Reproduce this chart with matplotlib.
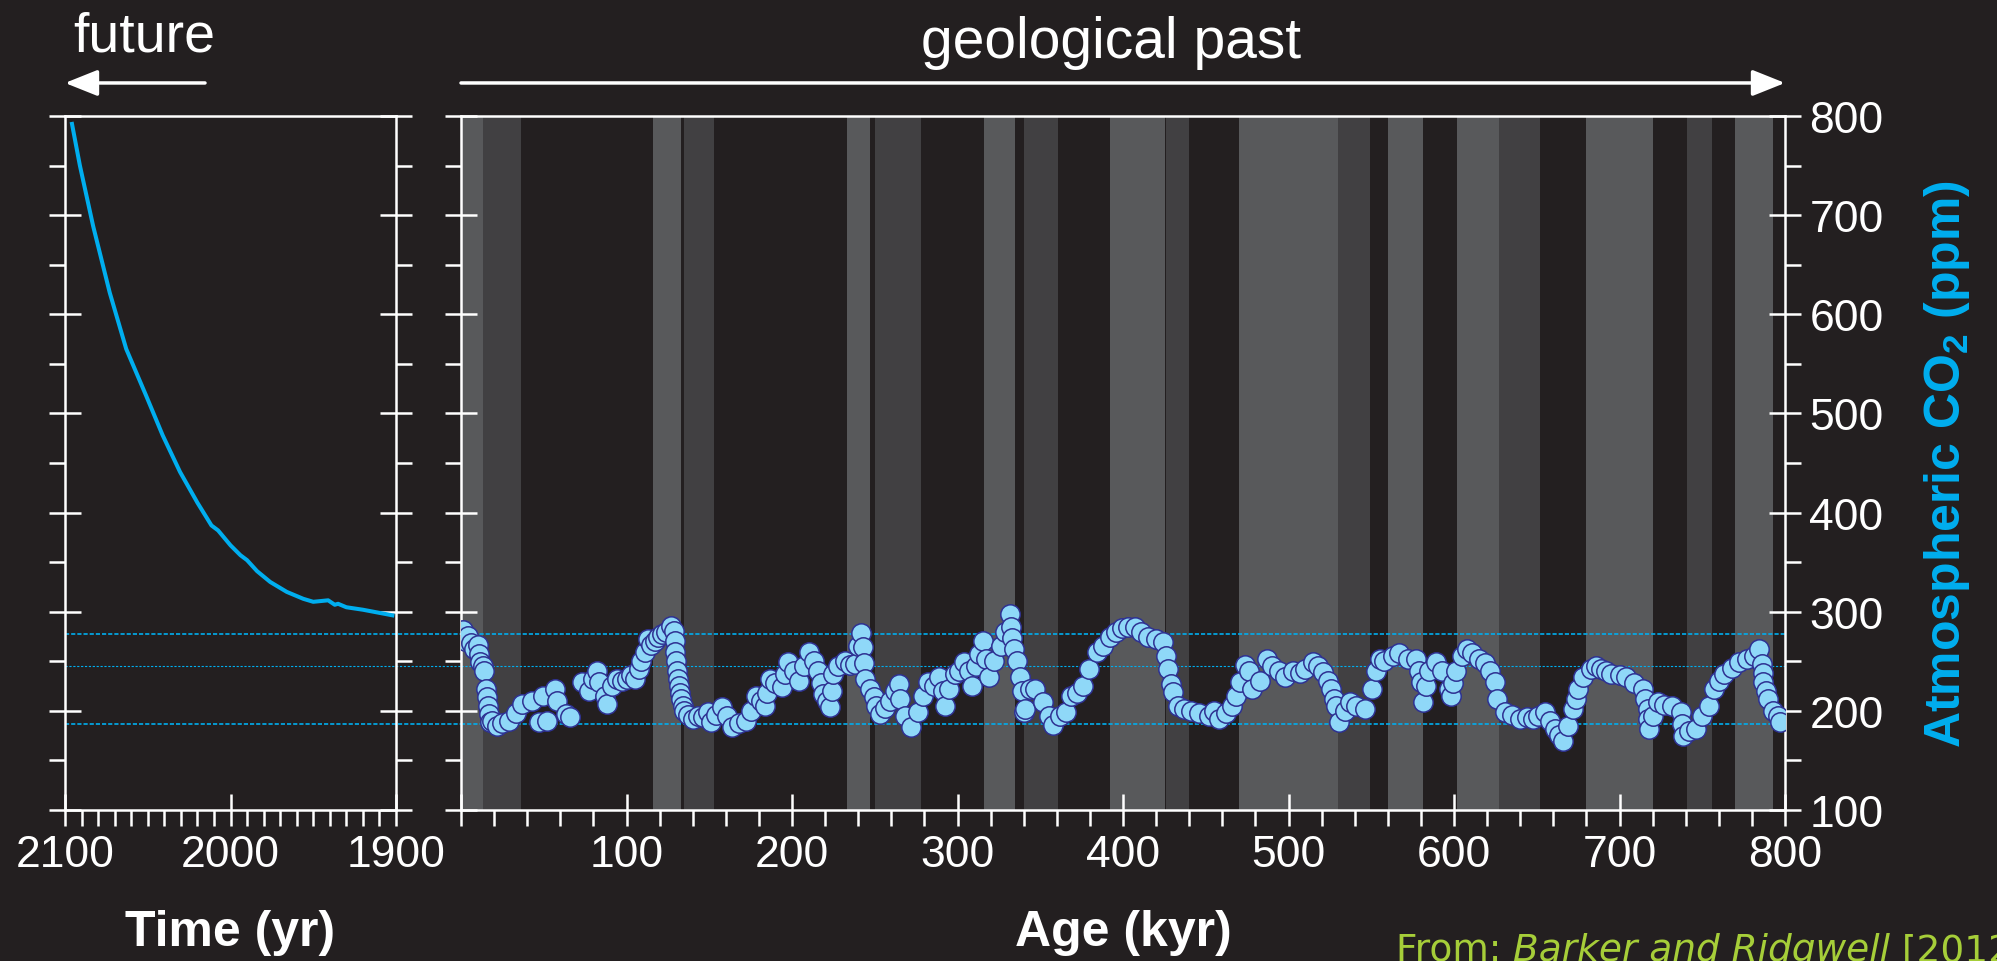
import matplotlib.pyplot as plt
from matplotlib.ticker import MultipleLocator, FuncFormatter

plt.rcParams['font.family'] = ['Liberation Sans', 'DejaVu Sans']
plt.rcParams['mathtext.fontset'] = 'custom'
plt.rcParams['mathtext.rm'] = 'Liberation Sans'
plt.rcParams['mathtext.bf'] = 'Liberation Sans:bold'

# future projection (left panel)
future_year = [2096, 2091, 2083, 2073, 2063, 2051, 2041, 2030.5, 2020, 2011.5, 2007.5, 2000,
               1994, 1990, 1984, 1976, 1966, 1956, 1950, 1941, 1937, 1935, 1930, 1920, 1901]
future_co2 = [794, 750, 689, 622, 565, 518, 478, 441, 410, 387, 382, 367,
              357, 352, 341, 330, 320, 313, 310, 311.5, 307, 308, 304.5, 302, 296]

# ice core record (right panel)
age_kyr = [0, 1, 2.4, 4, 6, 8, 10, 10.8, 11.5, 13, 14, 15, 15.6, 16.3, 16.8, 17.5, 19, 21.6, 25, 29,
           33, 37, 43, 47.4, 49.5, 52, 56.8, 58, 63.5, 66, 73, 77.5, 80, 82, 83.5, 87, 88, 91, 94, 97,
           100.5, 103, 105, 107.6, 109, 111, 113, 115, 117, 119, 121.5, 124, 127, 128.7, 129.2, 129.6,
           130, 130.5, 131, 131.7, 132.3, 133, 134, 135, 137, 139.9, 143, 146, 149, 151, 154, 158, 161,
           164, 168, 172, 175, 178, 181, 183.5, 185, 187, 190, 194, 196, 197.5, 201, 204.5, 207, 210,
           213, 216, 217.3, 218.6, 221, 223, 224, 225, 228, 232, 235, 238, 240, 241.7, 243, 243.5, 244,
           247, 249.6, 251, 253, 256, 259, 262, 264.6, 265.5, 268, 272, 276, 279, 282, 286, 289, 291,
           292.5, 295, 298.6, 301, 304, 307, 309, 311, 313, 315.5, 317, 319, 322, 326, 329, 331.6,
           332.5, 333, 334, 336, 337.5, 339, 340, 341, 344, 347, 351.6, 355, 358, 362, 365.6, 368.6,
           372, 376, 379.5, 384, 388, 392, 396, 399.5, 403, 407, 411, 415, 420, 424, 426, 427, 429,
           430, 433.5, 437, 441, 446, 452, 455, 458, 462, 465.7, 468, 470.5, 473.5, 476, 478, 482.6,
           487.3, 490, 494, 498, 503, 507, 510, 515, 518, 521, 524, 525.8, 527.5, 529, 530.6, 534, 537,
           541, 546, 550.6, 553, 555.4, 558, 563, 567, 572, 577, 579, 580, 581, 583, 585, 589, 593,
           597, 598, 599.5, 601, 605, 608, 611, 615, 619, 622, 624.6, 626, 631, 635, 640, 644, 647.5,
           651, 655, 658, 661, 663.5, 666, 669, 672, 673.5, 675, 678, 683, 686, 689, 692, 695, 700,
           704, 709, 714, 715.5, 717, 717.5, 718, 720, 723, 727, 732, 737, 737.8, 738.6, 742, 746,
           750, 754, 757, 760, 763, 768, 772, 777, 781.5, 784, 786, 786.5, 787, 788.5, 790, 793,
           795.5, 797]
co2_ppm = [280, 282, 270, 276, 268, 262, 266, 257, 249, 245, 240, 222, 214, 205, 197, 189, 190, 185, 188, 190,
           198, 207, 210, 189, 215, 190, 222, 210, 197, 194, 229, 220, 232, 240, 229, 215, 207, 225, 232, 230,
           232, 236, 232, 242, 250, 259, 272, 266, 270, 275, 278, 280, 286, 281, 270, 259,
           250, 240, 232, 225, 218, 212, 205, 200, 196, 192, 195, 194, 199, 189, 196, 204, 195,
           184, 188, 190, 200, 215, 210, 205, 218, 232, 228, 224, 237, 249, 240, 230, 245, 259,
           250, 240, 228, 217, 210, 204, 220, 237, 245, 250, 246, 247, 265, 279, 264, 248, 232,
           222, 214, 205, 197, 203, 210, 220, 227, 212, 195, 184, 199, 215, 229, 225, 234, 220,
           205, 222, 237, 240, 249, 240, 225, 245, 257, 270, 252, 234, 250, 265, 280, 298,
           285, 273, 262, 250, 234, 220, 199, 202, 222, 222, 209, 195, 186, 195, 199, 215,
           218, 225, 242, 259, 265, 274, 280, 284, 285, 285, 280, 274, 272, 269, 255, 242, 227,
           219, 205, 202, 200, 198, 195, 200, 192, 198, 205, 215, 229, 246, 240, 222, 230,
           252, 245, 240, 234, 240, 238, 242, 249, 245, 239, 230, 222, 212, 205, 189, 200, 209,
           205, 202, 222, 240, 252, 250, 255, 258, 252, 252, 240, 229, 209, 225, 240, 249, 240,
           222, 215, 228, 240, 255, 262, 258, 252, 248, 240, 229, 212, 199, 196, 192, 194, 192,
           195, 199, 190, 182, 176, 170, 185, 202, 212, 222, 234, 242, 245, 242, 240, 237, 236,
           234, 228, 222, 212, 202, 192, 182, 195, 209, 206, 205, 199, 187, 175, 180, 182,
           195, 205, 222, 230, 237, 243, 249, 252, 255, 262, 247, 238, 229, 220, 212, 200,
           195, 189]

light_bands = [(0, 13), (116, 133), (233, 247), (316, 335), (392, 425.3), (470, 530),
               (560, 581), (602, 627), (680, 720), (770, 793)]
dark_bands = [(13, 36), (135, 153), (250, 278), (340, 361), (426, 440), (530, 549),
              (627, 652), (741, 756)]
ref_levels = [278, 245, 187]

bg = '#231f20'
cyan = '#00aeef'
W, H = 1997, 962

fig = plt.figure(figsize=(W / 100, H / 100), dpi=100, facecolor=bg)
ax1 = fig.add_axes([65 / W, 151 / H, 331 / W, 694 / H], facecolor=bg)
ax2 = fig.add_axes([461 / W, 151 / H, 1324 / W, 694 / H], facecolor=bg)

# left panel
ax1.plot(future_year, future_co2, color=cyan, lw=2.9, solid_capstyle='butt', zorder=3)
ax1.set_xlim(2100, 1900)
ax1.set_ylim(100, 800)

# right panel: shaded bands
for a, b in light_bands:
    ax2.axvspan(a, b, color='#58595b', lw=0, zorder=0)
for a, b in dark_bands:
    ax2.axvspan(a, b, color='#414042', lw=0, zorder=0)
ax2.scatter(age_kyr, co2_ppm, s=195, facecolor='#8fd8f8', edgecolor='#2e3192',
            linewidths=1.1, zorder=3)
ax2.set_xlim(0, 800)
ax2.set_ylim(100, 800)

# dashed reference lines crossing both panels
p1, p2 = ax1.get_position(), ax2.get_position()
reach = (p2.x0 - p1.x0) / p1.width
for i, v in enumerate(ref_levels):
    lw = 0.8 if i == 1 else 1.2
    ds = (2, 1.5) if i == 1 else (2.5, 1.2)
    ax1.axhline(v, xmin=0, xmax=reach, color=cyan, lw=lw, dashes=ds, clip_on=False, zorder=2)
    ax2.axhline(v, color=cyan, lw=lw, dashes=ds, zorder=2)

for ax in (ax1, ax2):
    for s in ax.spines.values():
        s.set_color('white')
        s.set_linewidth(1.8)
    ax.yaxis.set_major_locator(MultipleLocator(100))
    ax.yaxis.set_minor_locator(MultipleLocator(50))
    ax.tick_params(which='major', direction='inout', length=23, width=1.8, colors='white',
                   labelsize=32, pad=6)
    ax.tick_params(which='minor', direction='out', length=11.5, width=1.8, colors='white')
    ax.tick_params(axis='y', which='both', left=True, right=True, labelleft=False)
    ax.tick_params(axis='x', which='both', top=False)

ax1.xaxis.set_major_locator(MultipleLocator(100))
ax1.xaxis.set_minor_locator(MultipleLocator(10))
ax1.tick_params(axis='y', labelright=False)

ax2.xaxis.set_major_locator(MultipleLocator(100))
ax2.xaxis.set_minor_locator(MultipleLocator(20))
ax2.xaxis.set_major_formatter(FuncFormatter(lambda v, p: '' if v == 0 else f'{v:.0f}'))
ax2.tick_params(axis='y', labelright=True)

ax1.set_xlabel('Time (yr)', fontsize=36, fontweight='bold', color='white', labelpad=24)
ax2.set_xlabel('Age (kyr)', fontsize=36, fontweight='bold', color='white', labelpad=24)
ax2.yaxis.set_label_position('right')
ax2.set_ylabel(r'Atmospheric CO$_\mathbf{2}$ (ppm)', fontsize=36, fontweight='bold',
               color=cyan, labelpad=28)

# arrows and headings
arrow = dict(arrowstyle='-|>,head_length=1.0,head_width=0.4', mutation_scale=20,
             lw=2.5, color='white', shrinkA=0, shrinkB=0)
ax1.annotate('', xy=(0, 1.0476), xytext=(0.423, 1.0476), xycoords='axes fraction',
             arrowprops=arrow, annotation_clip=False)
ax2.annotate('', xy=(1, 1.0476), xytext=(0, 1.0476), xycoords='axes fraction',
             arrowprops=arrow, annotation_clip=False)
ax1.text(0.024, 1.095, 'future', transform=ax1.transAxes, fontsize=40, color='white',
         ha='left', va='baseline')
ax2.text(0.491, 1.085, 'geological past', transform=ax2.transAxes, fontsize=41,
         color='white', ha='center', va='baseline')

# source note, running off the right edge as in the original
green = '#a6ce39'
t1 = fig.text(1396 / W, 1 / H, 'From: ', fontsize=27, color=green, family='DejaVu Sans',
              ha='left', va='baseline')
t2 = fig.text(0, 0, 'Barker and Ridgwell', fontsize=27, color=green, family='DejaVu Sans',
              style='italic', ha='left', va='baseline')
fig.canvas.draw()
bb = t1.get_window_extent()
t2.set_position((bb.x1 / W, 1 / H))
fig.canvas.draw()
bb2 = t2.get_window_extent()
fig.text(bb2.x1 / W, 1 / H, ' [2012]', fontsize=27, color=green, family='DejaVu Sans',
         ha='left', va='baseline')

fig.savefig('out.png', dpi=100, facecolor=bg)
